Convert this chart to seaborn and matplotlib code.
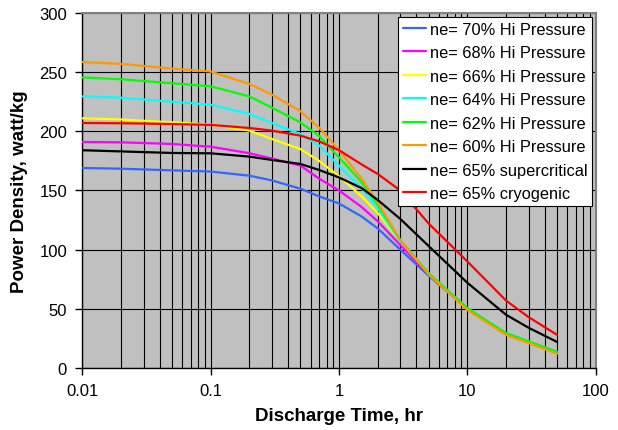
import numpy as np
import pandas as pd
import matplotlib
matplotlib.use("Agg")
import matplotlib.pyplot as plt
import matplotlib.ticker as mticker
import seaborn as sns

# ---- data ----
time_hr = [0.01, 0.02, 0.05, 0.1, 0.2, 0.3, 0.5, 0.7, 1, 1.5, 2, 3, 5, 10, 20, 30, 50]

ne70_hp = [169, 168.4, 167, 166, 162.5, 158.5, 151.5, 145, 139, 128, 118, 100, 78, 50, 29, 22, 13.5]
ne68_hp = [191, 190.7, 189.3, 187, 181.5, 177, 171, 160, 150, 136, 124, 104, 79, 50, 29, 22, 13]
ne66_hp = [211, 210, 207.6, 205.6, 200.6, 193.5, 185, 175, 162, 145, 131, 107, 80, 50, 29, 22, 13]
ne64_hp = [229.5, 228.4, 225, 222.5, 214.7, 207, 197.7, 188, 171, 152, 135, 107, 80, 50.5, 29.5, 22.5, 13.5]
ne62_hp = [245.5, 244, 240.6, 238, 229.5, 220, 207.5, 196, 178, 157, 138, 108, 80, 50.5, 29.5, 22.5, 13.5]
ne60_hp = [258.5, 257, 253, 250.5, 240, 231, 217, 203, 184, 160, 140, 108, 79, 49, 28, 21, 12]
ne65_sc = [184, 183, 181.7, 181.4, 178.6, 175.8, 172.4, 167.3, 161, 152, 142, 126, 103, 72, 45, 34, 22]
ne65_cr = [207, 206.8, 206.2, 205.4, 202.8, 200.6, 196.3, 191.5, 184, 172, 164, 150, 122, 90, 57, 43, 28]

series_names = [
    "ne= 70% Hi Pressure",
    "ne= 68% Hi Pressure",
    "ne= 66% Hi Pressure",
    "ne= 64% Hi Pressure",
    "ne= 62% Hi Pressure",
    "ne= 60% Hi Pressure",
    "ne= 65% supercritical",
    "ne= 65% cryogenic",
]
series_values = [ne70_hp, ne68_hp, ne66_hp, ne64_hp, ne62_hp, ne60_hp, ne65_sc, ne65_cr]
colors = ["#3366FF", "#FF00FF", "#FFFF00", "#00FFFF", "#00FF00", "#FF9900", "#000000", "#FF0000"]

x_ticks = [0.01, 0.1, 1, 10, 100]
x_tick_labels = ["0.01", "0.1", "1", "10", "100"]
y_ticks = [0, 50, 100, 150, 200, 250, 300]

# ---- build long table ----
rows = []
for name, vals in zip(series_names, series_values):
    for t, v in zip(time_hr, vals):
        rows.append({"time": t, "power": v, "series": name})
df = pd.DataFrame(rows)

sns.set_theme(style="white")
plt.rcParams["font.family"] = ["Liberation Sans", "DejaVu Sans"]
plt.rcParams["text.color"] = "black"
plt.rcParams["axes.labelcolor"] = "black"

fig = plt.figure(figsize=(6.18, 4.31), dpi=100)
ax = fig.add_axes([0.1333, 0.1439, 0.8306, 0.8237])
ax.set_facecolor("#C0C0C0")

sns.lineplot(data=df, x="time", y="power", hue="series", hue_order=series_names,
             palette=colors, sort=False, estimator=None, linewidth=1.6, ax=ax,
             legend=False, zorder=3)

ax.set_xscale("log")
ax.set_xlim(0.01, 100)
ax.set_ylim(0, 300)
ax.xaxis.set_major_locator(mticker.FixedLocator(x_ticks))
ax.xaxis.set_major_formatter(mticker.FixedFormatter(x_tick_labels))
ax.xaxis.set_minor_locator(mticker.LogLocator(base=10, subs=np.arange(2, 10)))
ax.xaxis.set_minor_formatter(mticker.NullFormatter())
ax.yaxis.set_major_locator(mticker.FixedLocator(y_ticks))

ax.grid(which="major", axis="both", color="black", linewidth=0.8, zorder=1)
ax.grid(which="minor", axis="x", color="black", linewidth=0.8, zorder=1)
ax.set_axisbelow(True)

ax.tick_params(axis="both", which="major", direction="out", length=5, width=1,
               color="black", labelsize=12, labelcolor="black", pad=6)
ax.tick_params(axis="x", which="minor", length=0)
ax.tick_params(left=True, bottom=True)

for side in ["left", "bottom"]:
    ax.spines[side].set_color("black")
    ax.spines[side].set_linewidth(1)
for side in ["top", "right"]:
    ax.spines[side].set_color("#808080")
    ax.spines[side].set_linewidth(1.5)

ax.set_xlabel("Discharge Time, hr", fontsize=13.5, fontweight="bold", labelpad=6, color="black")
ax.set_ylabel("Power Density, watt/kg", fontsize=13.5, fontweight="bold", labelpad=8, color="black")

handles = [plt.Line2D([0], [0], color=c, lw=1.6) for c in colors]
leg = ax.legend(handles, series_names, loc="upper right", bbox_to_anchor=(0.9934, 0.9896),
                borderaxespad=0, fontsize=11.8, frameon=True, fancybox=False, shadow=False,
                framealpha=1, edgecolor="black", facecolor="white",
                handlelength=1.4, handletextpad=0.25, labelspacing=0.52, borderpad=0.3)
leg.get_frame().set_linewidth(0.8)
leg.set_zorder(5)
for txt in leg.get_texts():
    txt.set_color("black")

fig.savefig("out.png", dpi=100, facecolor="white")
